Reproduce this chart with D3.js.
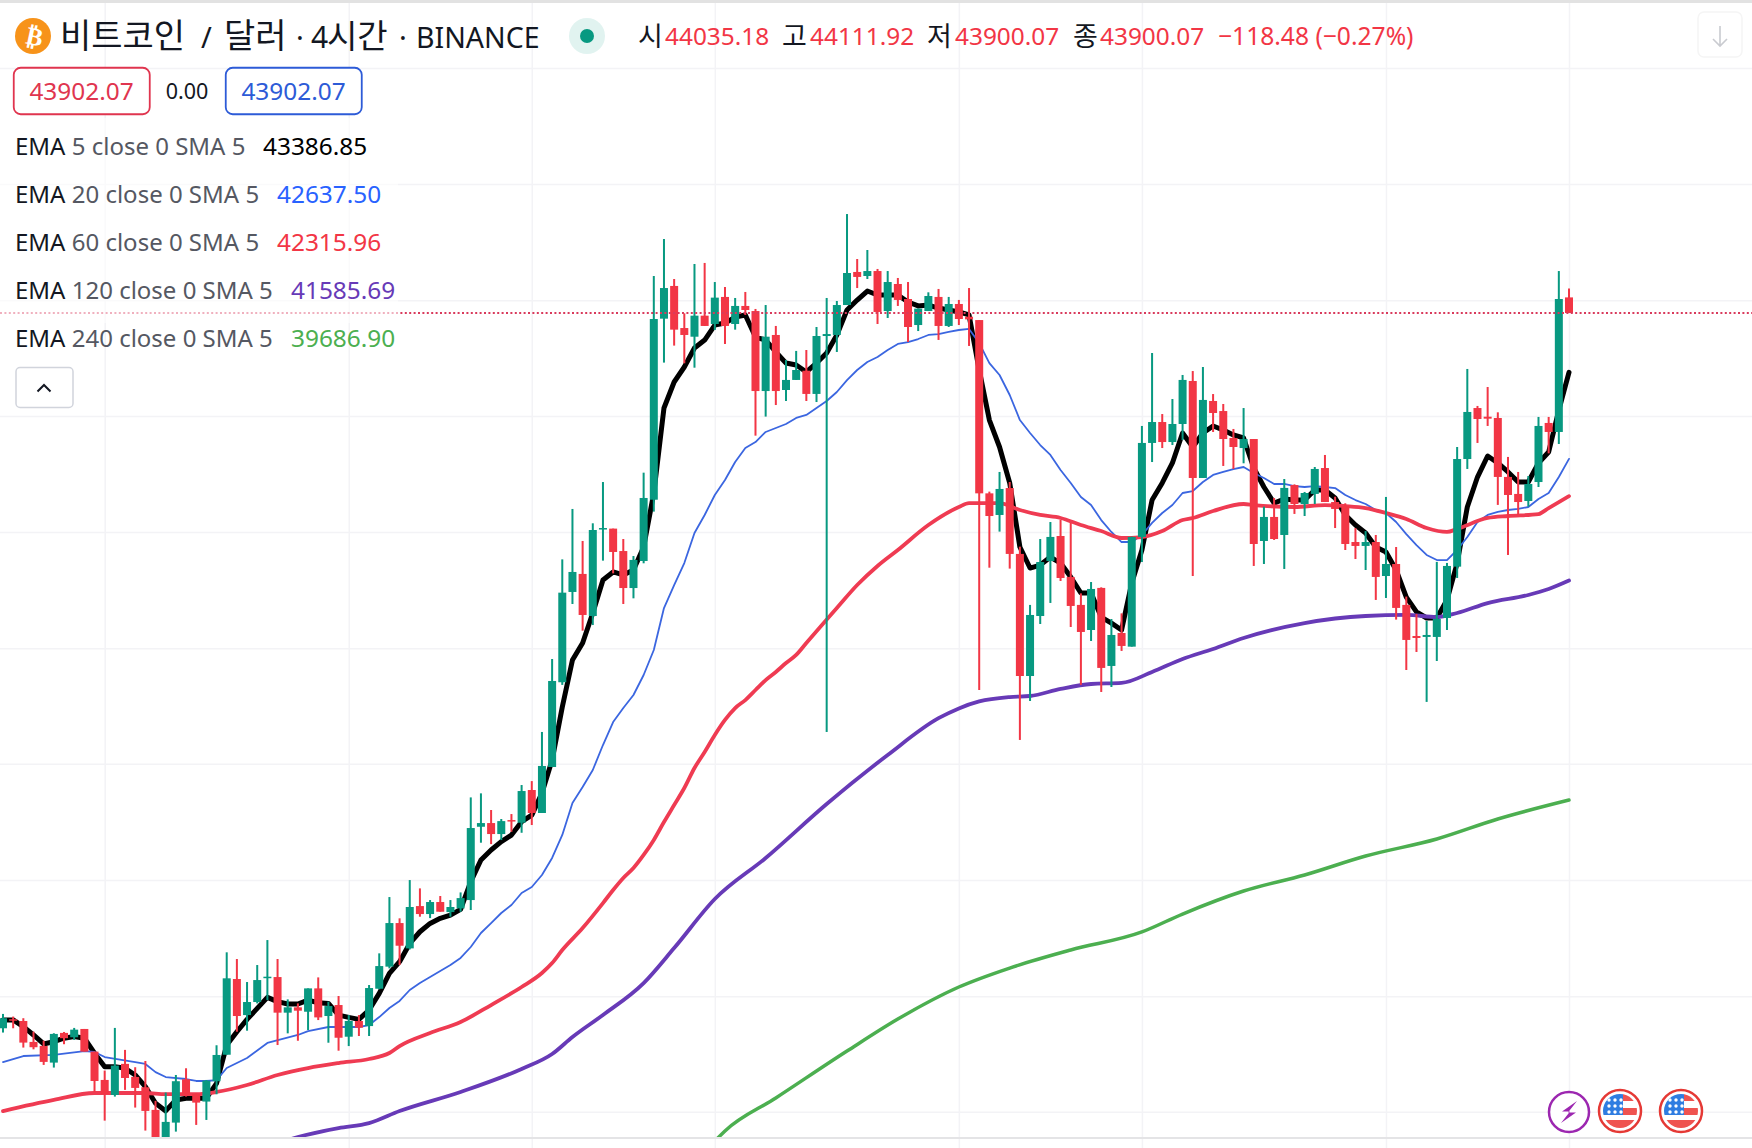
<!DOCTYPE html>
<html>
<head>
<meta charset="utf-8">
<script src="https://cdn.jsdelivr.net/npm/d3@7"></script>
<style>
  html, body { margin: 0; padding: 0; background: #fff; }
  svg { display: block; }
  text { font-family: "Noto Sans", "Noto Sans CJK KR", sans-serif; }
</style>
</head>
<body>
<div class="container"></div>
<script>
const WIDTH = 1752
const HEIGHT = 1148

// candles, oldest first (4h BTC/USD)
const opens = [37713,37791,37776,37595,37560,37416,37673,37635,37707,37511,
  37266,37136,37405,37292,37203,37007,36760,36897,37272,37145,
  37079,37255,37484,38139,37827,37940,38150,38156,37848,37894,
  37856,38058,37819,37914,37640,37776,37732,38055,38246,38623,
  38404,38770,38701,38805,38718,38750,38822,39456,39488,39393,
  39514,39491,39774,39575,39973,40706,41487,41643,41279,42029,
  42035,41841,41521,41755,42285,43851,44134,43770,43695,43877,
  43805,44039,43805,43961,43917,43225,43710,43234,43321,43401,
  43200,43701,43710,43969,44255,44220,44263,43917,44151,44021,
  43796,43917,44039,43788,43978,43868,43839,42340,42153,42386,
  41816,40760,41279,41755,41971,41617,41375,41158,41522,40847,
  41132,41014,41963,42776,42957,42784,42940,43312,42473,43139,
  43052,42819,42732,42810,41928,42136,41980,42412,42248,42335,
  42559,42265,42231,41919,41885,41919,41625,41729,41375,41106,
  41098,41098,41262,41706,42637,43078,43003,42992,42482,42335,
  42274,42438,42949,42871,44035]
const highs = [37837,37814,37800,37684,37606,37670,37681,37716,37707,37511,
  37347,37716,37526,37376,37430,37085,37157,37309,37367,37151,
  37266,37566,38370,38312,38113,38260,38476,38312,37963,37928,
  38058,38153,37943,37992,37827,37827,38087,38361,38848,38664,
  38995,38923,38822,38857,38822,38888,39710,39745,39601,39523,
  39566,39817,39851,40276,40907,41769,42205,41928,42081,42438,
  42035,41945,41798,42519,44220,44540,44194,43897,44324,44333,
  44168,44125,44030,44082,43935,43969,43788,43494,43572,43580,
  43779,44030,44004,44756,44367,44445,44281,44263,44203,44168,
  43938,44079,44108,44039,44013,44116,43839,42355,42525,42438,
  41879,41375,41945,42092,42110,42084,41475,41573,41527,41253,
  41302,41966,42923,43554,43026,43156,43364,43398,43433,43199,
  43113,42897,43078,42810,42225,42300,42464,42418,42352,42568,
  42672,42311,42254,42040,42014,41980,42309,41876,41447,41297,
  41236,41747,41738,42741,43416,43096,43260,43041,42655,42525,
  42490,43001,43001,44263,44112]
const lows = [37676,37713,37546,37531,37396,37373,37575,37612,37511,37165,
  36914,37122,37180,37027,36828,36700,36700,36819,37122,36877,
  36920,37142,37484,37683,37692,37928,37957,37568,37669,37605,
  37698,37784,37588,37519,37559,37646,37646,38050,38231,38260,
  38395,38678,38666,38721,38678,38721,38736,39318,39306,39341,
  39413,39404,39471,39575,39973,40683,41383,41152,41201,41758,
  41648,41383,41432,41735,42182,43471,43618,43465,43427,43788,
  43753,43632,43756,43883,42839,43004,43104,43139,43321,43139,
  43130,40276,43563,43969,44116,44194,43805,43857,43961,43649,
  43744,43917,43667,43779,43796,43615,40639,41697,42009,41689,
  40207,40544,41210,41392,41582,41184,40683,41063,40622,40665,
  40977,41014,41746,42611,42732,42758,42801,41625,42473,42871,
  42577,42551,42600,41712,41729,41937,41686,42162,42144,42248,
  42265,42040,41850,41772,41677,41418,41435,41248,40812,40968,
  40536,40890,41158,41608,42551,42776,42923,42240,41807,42153,
  42225,42395,42686,42767,43900]
const closes = [37800,37779,37589,37549,37422,37664,37627,37701,37511,37257,
  37145,37390,37283,37197,36998,36760,36903,37255,37133,37070,
  37260,37482,38145,37819,37940,38130,38159,37848,37894,37865,
  38058,37807,37905,37631,37776,37718,38061,38251,38623,38427,
  38762,38701,38805,38721,38762,38839,39445,39488,39393,39505,
  39503,39765,39575,39982,40717,41481,41660,41288,42023,42040,
  41833,41521,41764,42300,43848,44116,43756,43710,43877,43788,
  44033,43788,43961,43926,43225,43695,43225,43321,43407,43200,
  43701,43718,43969,44246,44212,44263,43909,44168,44013,43779,
  43938,44047,43788,43978,43848,43845,42340,42144,42378,41816,
  40760,41288,41746,41963,41608,41366,41141,41513,40830,41115,
  41020,41963,42776,42957,42784,42940,43321,42473,43148,43035,
  42810,42741,42810,41902,42136,41945,42387,42248,42343,42551,
  42265,42205,41902,41885,41919,41617,41729,41349,41072,41089,
  41115,41254,41712,42637,43044,42983,42986,42482,42326,42265,
  42421,42923,42871,44021,43900]

// moving averages, same candle index
const ema5 = [37785,37785,37727,37655,37577,37598,37627,37641,37627,37497,
  37381,37381,37367,37309,37208,37064,36998,37093,37108,37108,
  37108,37237,37568,37683,37790,37885,37980,37943,37923,37923,
  37957,37934,37928,37827,37807,37790,37871,38015,38188,38289,
  38447,38548,38620,38664,38692,38741,38981,39168,39255,39327,
  39384,39500,39557,39748,40034,40492,40898,41045,41305,41590,
  41660,41634,41677,41876,42343,43078,43303,43433,43597,43666,
  43796,43813,43865,43883,43692,43666,43563,43467,43450,43390,
  43467,43554,43710,43926,44012,44090,44056,44056,44056,43995,
  43961,43969,43943,43926,43909,43883,43407,42974,42741,42430,
  41876,41694,41720,41789,41737,41616,41478,41478,41270,41218,
  41158,41565,41850,42282,42430,42603,42862,42741,42862,42923,
  42888,42845,42819,42559,42395,42256,42291,42282,42282,42369,
  42369,42300,42153,42066,41997,41876,41833,41677,41443,41314,
  41262,41262,41417,41737,42222,42481,42663,42603,42525,42438,
  42438,42603,42698,43061,43387]

const ema20Idx = [0,2,5,8,9,10,13,14,15,16,18,19,20,21,22,23,24,26,29,30,32,33,35,36,37,38,39,40,41,42,44,45,46,47,48,49,50,51,52,53,54,55,56,57,58,59,60,61,62,63,64,65,66,67,68,69,70,71,72,73,74,75,76,77,78,79,80,81,82,83,84,85,86,87,88,89,90,91,92,93,94,95,96,97,98,99,100,101,102,103,104,105,106,107,108,109,110,111,112,113,114,115,116,117,118,119,120,121,122,123,124,125,126,127,128,129,130,131,132,133,134,135,136,137,138,139,140,141,142,143,144,145,146,147,148,149,150,151,152,153,154]
const ema20 = [37421,37473,37482,37516,37508,37464,37421,37404,37334,37291,37274,37257,37257,37265,37369,37412,37456,37586,37655,37689,37724,37724,37724,37741,37810,37888,37949,38044,38104,38156,38260,38321,38416,38537,38623,38710,38779,38883,38935,39039,39186,39385,39662,39800,39947,40163,40362,40483,40596,40769,40985,41348,41547,41737,41997,42153,42326,42456,42611,42732,42784,42871,42905,42940,42992,43018,43078,43139,43217,43320,43407,43476,43520,43580,43632,43649,43675,43710,43718,43736,43753,43762,43640,43467,43364,43191,42974,42862,42758,42672,42542,42430,42308,42239,42109,42006,41919,41919,41980,42084,42170,42239,42343,42360,42438,42499,42525,42550,42568,42516,42473,42421,42421,42403,42395,42403,42395,42386,42326,42282,42248,42196,42170,42092,41988,41893,41807,41763,41763,41850,41962,42092,42153,42179,42196,42205,42222,42291,42343,42481,42638]

const ema60Idx = [0,5,9,14,16,19,21,24,27,30,33,36,38,39,42,45,48,51,53,54,55,57,59,60,61,62,63,64,65,66,67,68,69,70,71,72,73,74,75,76,77,78,79,82,84,86,88,91,94,95,98,100,102,104,106,108,110,112,114,116,117,119,122,123,127,130,132,134,136,138,140,142,143,146,148,151,152,154]
const ema60 = [36997,37093,37153,37153,37144,37144,37162,37222,37309,37369,37412,37447,37499,37559,37672,37767,37914,38070,38191,38277,38390,38580,38796,38909,39013,39099,39212,39342,39497,39644,39791,39964,40103,40250,40380,40483,40552,40639,40725,40795,40872,40942,41045,41348,41547,41712,41850,42066,42222,42256,42256,42196,42153,42127,42066,42014,41954,41962,42014,42109,42127,42187,42248,42239,42222,42239,42230,42213,42170,42118,42040,42006,42032,42127,42144,42161,42213,42316]

const ema120Idx = [28,29,33,36,39,45,51,54,56,59,63,66,70,75,81,87,92,94,96,99,101,104,107,110,113,116,119,122,128,134,138,141,143,146,150,152,154]
const ema120 = [36746,36772,36850,36893,36997,37162,37361,37490,37637,37828,38104,38407,38831,39186,39653,40077,40395,40480,40540,40578,40587,40648,40691,40700,40795,40907,40994,41089,41218,41279,41288,41270,41305,41391,41461,41513,41586]

const ema240Idx = [70,71,76,83,88,94,99,105,112,116,122,128,134,141,147,154]
const ema240 = [36737,36825,37110,37516,37793,38070,38234,38390,38546,38701,38900,39039,39203,39350,39523,39687]

const lastPrice = 43900
const gridPrices = [46020,45015,44010,43010,42005,41000,40000,38995,37990,36990]
const gridCandles = [10,34,52,70,94,112,136,154]

// legend texts
const ohlcLabels = ['시','고','저','종']
const ohlcValues = ['44035.18','44111.92','43900.07','43900.07']
const emaPeriods = [5,20,60,120,240]
const emaValues = ['43386.85','42637.50','42315.96','41585.69','39686.90']

const GREEN = '#089981'
const RED = '#F23645'
const BLUE = '#2962FF'
const PURPLE = '#673AB7'
const LIME = '#4CAF50'
const INK = '#131722'
const GRID = '#f3f3f6'

const PLOT_BOTTOM = 1137

const x = d3.scaleLinear().domain([0, opens.length - 1]).range([3, 1569])
// calibrated on the last close and the EMA legend values
const y = d3.scaleLinear().domain([46607.5, 36700]).range([0, (46607.5 - 36700) / 8.65])

const candles = d3.range(opens.length).map(i => ({ i, o: opens[i], h: highs[i], l: lows[i], c: closes[i] }))

const svg = d3.select('.container').append('svg')
  .attr('xmlns', 'http://www.w3.org/2000/svg')
  .attr('viewBox', `0 0 ${WIDTH} ${HEIGHT}`)
  .attr('width', WIDTH)
  .attr('height', HEIGHT)

svg.append('rect').attr('width', WIDTH).attr('height', HEIGHT).attr('fill', '#fff')

svg.append('clipPath').attr('id', 'plot')
  .append('rect').attr('width', WIDTH).attr('height', PLOT_BOTTOM)

// Grid, from real axes with the labels taken off
const grid = svg.append('g')
grid.append('g')
  .call(d3.axisRight(y).tickValues(gridPrices).tickSize(WIDTH).tickFormat(''))
  .call(g => g.select('.domain').remove())
  .call(g => g.selectAll('line').attr('stroke', GRID).attr('stroke-width', 1.5))
grid.append('g')
  .attr('transform', `translate(0,${HEIGHT})`)
  .call(d3.axisTop(x).tickValues(gridCandles).tickSize(HEIGHT).tickFormat(''))
  .call(g => g.select('.domain').remove())
  .call(g => g.selectAll('line').attr('stroke', GRID).attr('stroke-width', 1.5))

const plot = svg.append('g').attr('clip-path', 'url(#plot)')

// Moving averages go under the candles
const line = d3.line().x(d => x(d[0])).y(d => y(d[1]))
const emaSeries = [
  { idx: d3.range(ema5.length), vals: ema5, color: '#000', w: 5 },
  { idx: ema20Idx, vals: ema20, color: '#3b66e0', w: 1.8 },
  { idx: ema60Idx, vals: ema60, color: '#ef3b52', w: 3.8 },
  { idx: ema120Idx, vals: ema120, color: PURPLE, w: 3.8 },
  { idx: ema240Idx, vals: ema240, color: LIME, w: 3.5 }
]
plot.selectAll('path.ema')
  .data(emaSeries)
  .join('path')
  .attr('class', 'ema')
  .attr('fill', 'none')
  .attr('stroke', d => d.color)
  .attr('stroke-width', d => d.w)
  .attr('stroke-linejoin', 'round')
  .attr('stroke-linecap', 'round')
  .attr('d', d => line.curve(d.idx.length < ema5.length - 20 ? d3.curveMonotoneX : d3.curveLinear)(d.idx.map((k, j) => [k, d.vals[j]])))

// Last price line
svg.append('line')
  .attr('x1', 0).attr('x2', WIDTH)
  .attr('y1', y(lastPrice)).attr('y2', y(lastPrice))
  .attr('stroke', '#d93a5c').attr('stroke-width', 2)
  .attr('stroke-dasharray', '2 2.4')

const candle = plot.selectAll('g.candle')
  .data(candles)
  .join('g')
  .attr('class', 'candle')
  .attr('fill', d => d.c >= d.o ? GREEN : RED)

candle.append('rect')
  .attr('x', d => x(d.i) - 1)
  .attr('width', 2)
  .attr('y', d => y(d.h))
  .attr('height', d => y(d.l) - y(d.h))

candle.append('rect')
  .attr('x', d => x(d.i) - 4)
  .attr('width', 8)
  .attr('y', d => y(Math.max(d.o, d.c)))
  .attr('height', d => Math.max(1.5, Math.abs(y(d.o) - y(d.c))))

// Top strip and bottom axis line
svg.append('rect').attr('width', WIDTH).attr('height', 3).attr('fill', '#e2e2e2')
svg.append('rect').attr('y', PLOT_BOTTOM).attr('width', WIDTH).attr('height', 2).attr('fill', '#e4e4e6')

// Header
const header = svg.append('g')
header.append('circle').attr('cx', 33).attr('cy', 36).attr('r', 18).attr('fill', '#F7931A')
header.append('text')
  .attr('transform', 'translate(33,45) rotate(12)')
  .attr('text-anchor', 'middle')
  .attr('font-size', 25).attr('font-weight', 700).attr('fill', '#fff')
  .style('font-family', '"DejaVu Sans"')
  .text('₿')

const title = header.append('text').attr('y', 48).attr('fill', INK)
const titleParts = [
  { t: '비트코인', x: 60, s: 34 },
  { t: '/', x: 201, s: 29 },
  { t: '달러', x: 224, s: 34 },
  { t: '·', x: 296, s: 29 },
  { t: '4', x: 311, s: 30 },
  { t: '시간', x: 327, s: 33 },
  { t: '·', x: 399, s: 29 },
  { t: 'BINANCE', x: 416, s: 28.5 }
]
titleParts.forEach(d => {
  title.append('tspan').attr('x', d.x).attr('font-size', d.s).text(d.t)
})

header.append('circle').attr('cx', 587).attr('cy', 36).attr('r', 18).attr('fill', GREEN).attr('fill-opacity', 0.12)
header.append('circle').attr('cx', 587).attr('cy', 36).attr('r', 7).attr('fill', GREEN)

const labelX = [638, 782, 927, 1073]
const valueX = [665, 810, 955, 1100]
ohlcLabels.forEach((d, i) => {
  header.append('text').attr('x', labelX[i]).attr('y', 46).attr('font-size', 27).attr('fill', INK).text(d)
  header.append('text').attr('x', valueX[i]).attr('y', 45).attr('font-size', 24.4).attr('fill', RED).text(ohlcValues[i])
})
header.append('text').attr('x', 1218).attr('y', 45).attr('font-size', 24.6).attr('fill', RED).text('−118.48 (−0.27%)')

// Arrow button, top right
header.append('rect')
  .attr('x', 1698).attr('y', 12).attr('width', 44).attr('height', 45).attr('rx', 6)
  .attr('fill', '#fff').attr('stroke', '#f5f5f5').attr('stroke-width', 1.5)
header.append('path')
  .attr('d', 'M1720 26V46M1713 39L1720 46L1727 39')
  .attr('fill', 'none').attr('stroke', '#c9cbd0').attr('stroke-width', 1.6)

// Legend sits on a translucent panel that dims what is behind it
svg.append('rect')
  .attr('x', 0).attr('y', 118).attr('width', 398).attr('height', 205)
  .attr('fill', '#fff').attr('fill-opacity', 0.6)

// Bid / ask boxes
const box = svg.append('g')
const boxes = [
  { x: 13, color: '#e0354f', label: '43902.07' },
  { x: 225, color: '#2d5bd7', label: '43902.07' }
]
boxes.forEach(b => {
  box.append('rect')
    .attr('x', b.x + 0.75).attr('y', 67.75).attr('width', 136).attr('height', 46.5).attr('rx', 7)
    .attr('fill', '#fff').attr('stroke', b.color).attr('stroke-width', 1.8)
  box.append('text')
    .attr('x', b.x + 68.5).attr('y', 100)
    .attr('text-anchor', 'middle')
    .attr('font-size', 24.4).attr('fill', b.color)
    .text(b.label)
})
box.append('text').attr('x', 187).attr('y', 99).attr('text-anchor', 'middle').attr('font-size', 21.5).attr('fill', INK).text('0.00')

// EMA legend
const legendColors = ['#000', BLUE, RED, PURPLE, LIME]
const legendValueX = [263, 277, 277, 291, 291]
const legend = svg.append('g').attr('font-size', 24)
emaPeriods.forEach((p, i) => {
  const ly = 155 + i * 48
  const t = legend.append('text').attr('x', 15).attr('y', ly)
  t.append('tspan').attr('fill', INK).text('EMA ')
  t.append('tspan').attr('fill', '#555862').text(`${p} close 0 SMA 5`)
  legend.append('text').attr('x', legendValueX[i]).attr('y', ly).attr('fill', legendColors[i]).attr('font-size', 24.4).text(emaValues[i])
})

// Collapse button
legend.append('rect')
  .attr('x', 16).attr('y', 367.5).attr('width', 57).attr('height', 40).attr('rx', 4)
  .attr('fill', '#fff').attr('stroke', '#d1d4dc').attr('stroke-width', 1.5)
legend.append('path')
  .attr('d', 'M37.5 391.5L44 385L50.5 391.5')
  .attr('fill', 'none').attr('stroke', INK).attr('stroke-width', 2)

// Event icons, bottom right
const icons = svg.append('g')
icons.append('circle').attr('cx', 1569).attr('cy', 1112).attr('r', 20)
  .attr('fill', '#fff').attr('stroke', '#9c27b0').attr('stroke-width', 2.5)
icons.append('path')
  .attr('d', 'M1577 1101L1562 1111.5H1570L1561 1123L1576 1112.5H1568Z')
  .attr('fill', '#9c27b0')

svg.append('clipPath').attr('id', 'flag').append('circle').attr('r', 17)
const starX = [-11, -5, 1]
const starY = [-11, -5, 1]
;[1620, 1681].forEach(cx => {
  const flag = icons.append('g').attr('transform', `translate(${cx},1111)`)
  flag.append('circle').attr('r', 21).attr('fill', '#fff').attr('stroke', '#e53935').attr('stroke-width', 2.5)
  const inner = flag.append('g').attr('clip-path', 'url(#flag)')
  inner.append('rect').attr('x', 3).attr('y', -17).attr('width', 15).attr('height', 7).attr('fill', '#ef5350')
  inner.append('rect').attr('x', 3).attr('y', -3).attr('width', 15).attr('height', 7).attr('fill', '#ef5350')
  inner.append('rect').attr('x', -17).attr('y', 9).attr('width', 34).attr('height', 8).attr('fill', '#ef5350')
  inner.append('rect').attr('x', -17).attr('y', -17).attr('width', 20).attr('height', 21).attr('fill', '#2f7de1')
  starX.forEach(sx => starY.forEach(sy => {
    inner.append('circle').attr('cx', sx).attr('cy', sy).attr('r', 1.7).attr('fill', '#fff')
  }))
})
</script>
</body>
</html>
